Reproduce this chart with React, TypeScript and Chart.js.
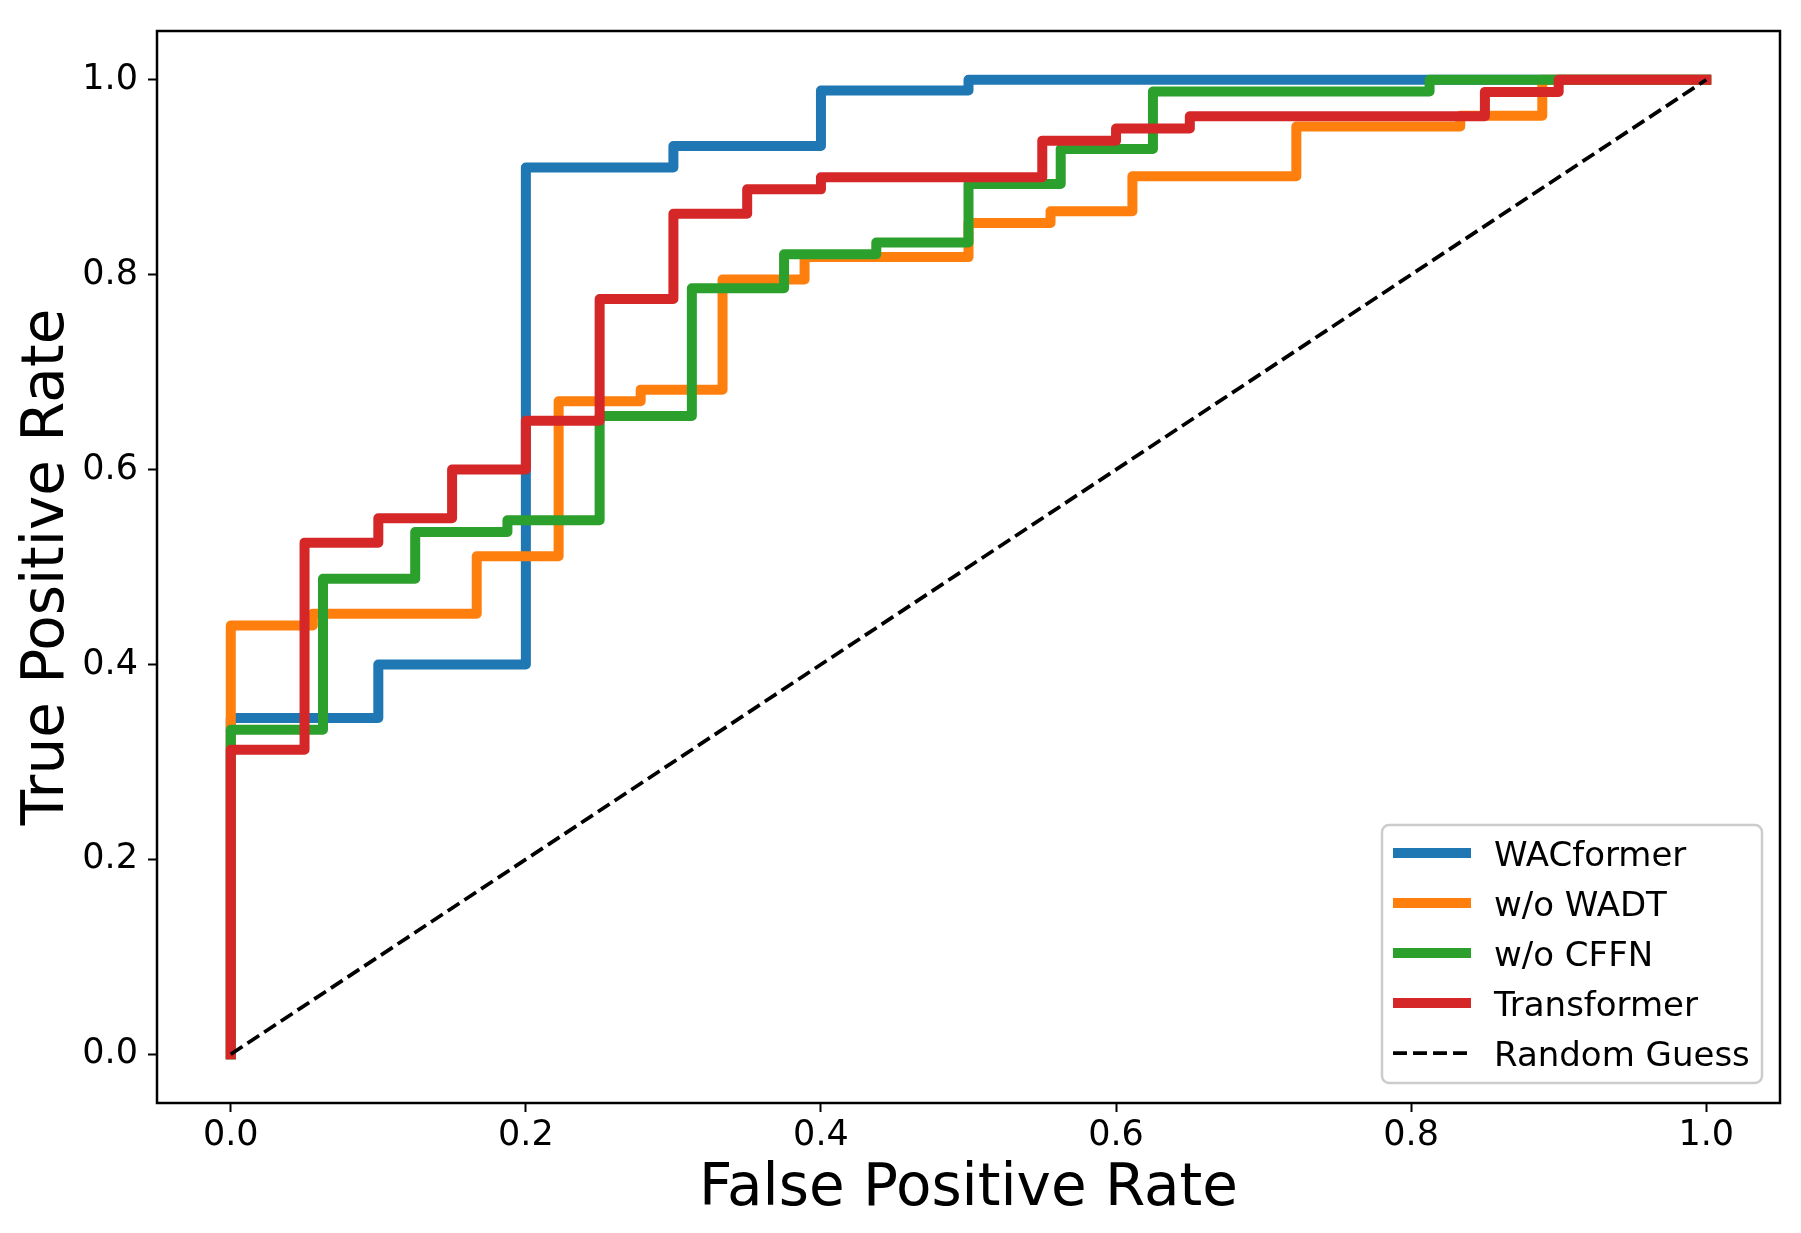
import React, { useEffect, useRef } from "react";
import { Chart, registerables } from "chart.js";

Chart.register(...registerables);

// ---- Data (ROC curves) ----
const seriesLabels = ["WACformer", "w/o WADT", "w/o CFFN", "Transformer"];
const seriesColors = ["#1f77b4", "#ff7f0e", "#2ca02c", "#d62728"];

const wacFpr = [0, 0, 0.1, 0.1, 0.2, 0.2, 0.3, 0.3, 0.4, 0.4, 0.5, 0.5, 1.0];
const wacTpr = [0, 0.345, 0.345, 0.4, 0.4, 0.91, 0.91, 0.932, 0.932, 0.989, 0.989, 1.0, 1.0];

const wadtFpr = [0, 0, 0.0556, 0.0556, 0.1667, 0.1667, 0.2222, 0.2222, 0.2778, 0.2778, 0.3333, 0.3333, 0.3889, 0.3889, 0.5, 0.5, 0.5556, 0.5556, 0.6111, 0.6111, 0.7222, 0.7222, 0.8333, 0.8333, 0.8889, 0.8889, 1.0];
const wadtTpr = [0, 0.44, 0.44, 0.452, 0.452, 0.511, 0.511, 0.67, 0.67, 0.682, 0.682, 0.795, 0.795, 0.818, 0.818, 0.853, 0.853, 0.865, 0.865, 0.901, 0.901, 0.952, 0.952, 0.963, 0.963, 1.0, 1.0];

const cffnFpr = [0, 0, 0.0625, 0.0625, 0.125, 0.125, 0.1875, 0.1875, 0.25, 0.25, 0.3125, 0.3125, 0.375, 0.375, 0.4375, 0.4375, 0.5, 0.5, 0.5625, 0.5625, 0.625, 0.625, 0.8125, 0.8125, 1.0];
const cffnTpr = [0, 0.333, 0.333, 0.488, 0.488, 0.536, 0.536, 0.548, 0.548, 0.655, 0.655, 0.786, 0.786, 0.821, 0.821, 0.833, 0.833, 0.893, 0.893, 0.929, 0.929, 0.988, 0.988, 1.0, 1.0];

const transFpr = [0, 0, 0.05, 0.05, 0.1, 0.1, 0.15, 0.15, 0.2, 0.2, 0.25, 0.25, 0.3, 0.3, 0.35, 0.35, 0.4, 0.4, 0.55, 0.55, 0.6, 0.6, 0.65, 0.65, 0.85, 0.85, 0.9, 0.9, 1.0];
const transTpr = [0, 0.3125, 0.3125, 0.525, 0.525, 0.55, 0.55, 0.6, 0.6, 0.65, 0.65, 0.775, 0.775, 0.8625, 0.8625, 0.8875, 0.8875, 0.9, 0.9, 0.9375, 0.9375, 0.95, 0.95, 0.9625, 0.9625, 0.9875, 0.9875, 1.0, 1.0];

const guessLabel = "Random Guess";
const guessFpr = [0, 1];
const guessTpr = [0, 1];

const tickValues = [0, 0.2, 0.4, 0.6, 0.8, 1.0];
const xTitle = "False Positive Rate";
const yTitle = "True Positive Rate";

const FONT = '"DejaVu Sans", "Noto Sans", sans-serif';

function toPoints(xs: number[], ys: number[]) {
  return xs.map((x, i) => ({ x, y: ys[i] }));
}

export default function App() {
  const ref = useRef<HTMLCanvasElement>(null);

  useEffect(() => {
    const canvas = ref.current;
    if (!canvas) return;

    const curves = [
      [wacFpr, wacTpr],
      [wadtFpr, wadtTpr],
      [cffnFpr, cffnTpr],
      [transFpr, transTpr],
    ];

    const datasets: any[] = curves.map(([xs, ys], i) => ({
      label: seriesLabels[i],
      data: toPoints(xs, ys),
      borderColor: seriesColors[i],
      backgroundColor: seriesColors[i],
      borderWidth: 10,
      borderJoinStyle: "round",
      borderCapStyle: "square",
      pointRadius: 0,
      tension: 0,
      fill: false,
      order: 10 - i,
    }));
    datasets.push({
      label: guessLabel,
      data: toPoints(guessFpr, guessTpr),
      borderColor: "#000000",
      backgroundColor: "#000000",
      borderWidth: 3.75,
      borderDash: [14, 6],
      borderCapStyle: "butt",
      pointRadius: 0,
      tension: 0,
      fill: false,
      order: 1,
    });

    const framePlugin = {
      id: "frame",
      afterDatasetsDraw(chart: any) {
        const { ctx, chartArea: a } = chart;
        ctx.save();
        ctx.strokeStyle = "#000";
        ctx.lineWidth = 2.5;
        ctx.setLineDash([]);
        ctx.strokeRect(a.left, a.top, a.right - a.left, a.bottom - a.top);
        ctx.restore();
      },
    };

    const legendPlugin = {
      id: "mplLegend",
      afterDraw(chart: any) {
        const ctx = chart.ctx;
        const a = chart.chartArea;
        ctx.save();
        const bw = 380;
        const bh = 258;
        const bx = a.right - 18 - bw;
        const by = a.bottom - 20 - bh;
        ctx.beginPath();
        if ((ctx as any).roundRect) (ctx as any).roundRect(bx, by, bw, bh, 7);
        else ctx.rect(bx, by, bw, bh);
        ctx.fillStyle = "rgba(255,255,255,0.8)";
        ctx.fill();
        ctx.lineWidth = 2.5;
        ctx.strokeStyle = "#cccccc";
        ctx.stroke();
        chart.data.datasets.forEach((ds: any, i: number) => {
          const cy = by + 28 + i * 50;
          ctx.beginPath();
          ctx.moveTo(bx + 11, cy);
          ctx.lineTo(bx + 89, cy);
          ctx.lineWidth = ds.borderWidth;
          ctx.strokeStyle = ds.borderColor;
          ctx.setLineDash(ds.borderDash || []);
          ctx.lineCap = "butt";
          ctx.stroke();
          ctx.setLineDash([]);
          ctx.fillStyle = "#000";
          ctx.font = `34px ${FONT}`;
          ctx.textBaseline = "alphabetic";
          ctx.textAlign = "left";
          ctx.fillText(ds.label, bx + 112, cy + 12.5);
        });
        ctx.restore();
      },
    };

    const commonTicks = {
      color: "#000",
      font: { family: FONT, size: 35 },
      callback: (v: any) => Number(v).toFixed(1),
    };
    const commonGrid = {
      display: true,
      drawOnChartArea: false,
      drawTicks: true,
      tickLength: 9,
      tickWidth: 2,
      tickColor: "#000",
    };

    const chart = new Chart(canvas, {
      type: "line",
      data: { datasets },
      options: {
        animation: false,
        responsive: false,
        devicePixelRatio: 1,
        layout: { padding: { top: 28, right: 21, bottom: 0, left: 0 } },
        plugins: {
          legend: { display: false },
          tooltip: { enabled: false },
        },
        scales: {
          x: {
            type: "linear",
            min: -0.05,
            max: 1.05,
            afterBuildTicks: (scale: any) => {
              scale.ticks = tickValues.map((v) => ({ value: v }));
            },
            afterFit: (scale: any) => {
              scale.height = 130;
            },
            ticks: { ...commonTicks, padding: 3, maxRotation: 0 },
            grid: commonGrid,
            border: { display: false },
            title: {
              display: true,
              text: xTitle,
              color: "#000",
              font: { family: FONT, size: 58 },
              padding: { top: 0, bottom: 8 },
            },
          },
          y: {
            type: "linear",
            min: -0.05,
            max: 1.05,
            afterBuildTicks: (scale: any) => {
              scale.ticks = tickValues.map((v) => ({ value: v }));
            },
            afterFit: (scale: any) => {
              scale.width = 157;
            },
            ticks: { ...commonTicks, padding: 10 },
            grid: commonGrid,
            border: { display: false },
            title: {
              display: true,
              text: yTitle,
              color: "#000",
              font: { family: FONT, size: 58 },
              padding: { top: 13, bottom: 0 },
            },
          },
        },
      } as any,
      plugins: [framePlugin, legendPlugin],
    });

    return () => chart.destroy();
  }, []);

  return (
    <div style={{ position: "absolute", left: 0, top: 0, width: 1801, height: 1233, background: "#ffffff" }}>
      <canvas ref={ref} width={1801} height={1233} style={{ width: 1801, height: 1233, display: "block" }} />
    </div>
  );
}
